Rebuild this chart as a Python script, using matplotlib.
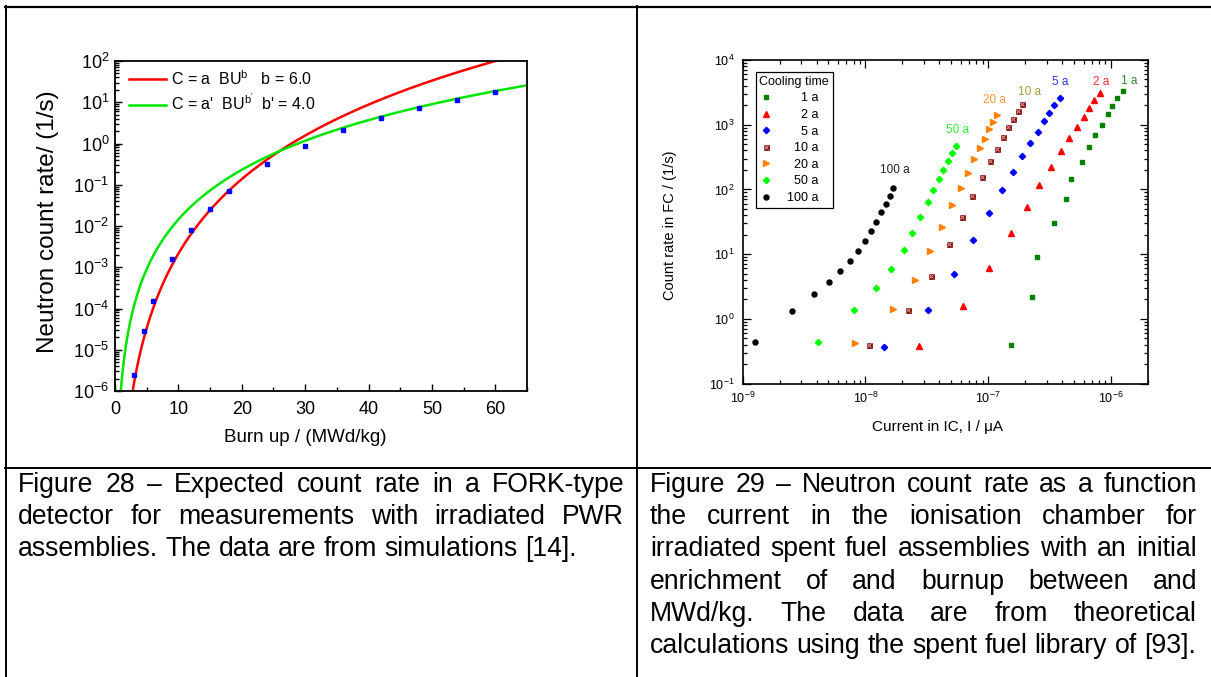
import matplotlib
matplotlib.use("Agg")
import matplotlib.pyplot as plt
import numpy as np
from matplotlib.lines import Line2D
from matplotlib.ticker import LogLocator, NullFormatter, MultipleLocator
from matplotlib.legend_handler import HandlerTuple

plt.rcParams['font.family'] = ['Liberation Sans', 'DejaVu Sans']
plt.rcParams['mathtext.fontset'] = 'custom'
plt.rcParams['mathtext.rm'] = 'Liberation Sans'
plt.rcParams['mathtext.it'] = 'Liberation Sans:italic'
plt.rcParams['mathtext.bf'] = 'Liberation Sans:bold'

W, H = 1211, 677

# ---- Figure 28: count rate vs burn up
burnup = [3, 4.5, 6, 9, 12, 15, 18, 24, 30, 36, 42, 48, 54, 60]
count_rate = [2.5e-6, 2.9e-5, 1.55e-4, 1.6e-3, 8.1e-3, 0.026, 0.072, 0.31,
              0.885, 2.16, 4.23, 7.4, 11.5, 18.1]
fit_a, fit_b = 2.14e-9, 6.0      # red fit
fit_a2, fit_b2 = 1.44e-6, 4.0    # green fit

# ---- Figure 29: FC count rate vs IC current, per cooling time
cooling = ['1 a', '2 a', '5 a', '10 a', '20 a', '50 a', '100 a']
cur_1a = [1.54e-7, 2.29e-7, 2.50e-7, 3.46e-7, 4.26e-7, 4.69e-7, 5.75e-7,
          6.60e-7, 7.38e-7, 8.41e-7, 9.46e-7, 1.02e-6, 1.12e-6, 1.24e-6]
rate_1a = [0.387, 2.14, 8.9, 29.8, 70, 143, 262, 446, 684, 1000, 1460, 1920, 2560, 3280]
cur_2a = [2.72e-8, 6.21e-8, 1.01e-7, 1.52e-7, 2.06e-7, 2.61e-7, 3.25e-7,
          3.95e-7, 4.56e-7, 5.27e-7, 6.00e-7, 6.61e-7, 7.33e-7, 8.07e-7]
rate_2a = [0.378, 1.55, 6.08, 20.9, 54, 117, 224, 387, 622, 920, 1330, 1810, 2410, 3090]
cur_5a = [1.42e-8, 3.21e-8, 5.24e-8, 7.58e-8, 1.02e-7, 1.29e-7, 1.59e-7,
          1.88e-7, 2.18e-7, 2.52e-7, 2.83e-7, 3.14e-7, 3.46e-7, 3.81e-7]
rate_5a = [0.369, 1.36, 4.91, 16.5, 43.6, 96.5, 185, 324, 514, 770, 1130, 1530, 2040, 2620]
cur_10a = [1.07e-8, 2.22e-8, 3.44e-8, 4.75e-8, 6.08e-8, 7.43e-8, 8.83e-8,
           1.03e-7, 1.17e-7, 1.32e-7, 1.46e-7, 1.59e-7, 1.74e-7, 1.88e-7]
rate_10a = [0.387, 1.38, 4.57, 14.4, 37.4, 79.8, 153, 274, 425, 637, 920, 1240, 1650, 2110]
cur_20a = [8.29e-9, 1.67e-8, 2.52e-8, 3.37e-8, 4.23e-8, 5.06e-8, 5.96e-8,
           6.84e-8, 7.64e-8, 8.53e-8, 9.33e-8, 1.01e-7, 1.09e-7, 1.18e-7]
rate_20a = [0.416, 1.41, 3.96, 11.0, 26.5, 56.6, 106, 181, 294, 436, 608, 847, 1110, 1410]
cur_50a = [4.08e-9, 8.13e-9, 1.21e-8, 1.61e-8, 2.05e-8, 2.38e-8, 2.79e-8,
           3.21e-8, 3.56e-8, 3.97e-8, 4.32e-8, 4.69e-8, 5.10e-8, 5.42e-8]
rate_50a = [0.436, 1.39, 2.94, 5.93, 11.5, 21.4, 37.8, 63, 96.5, 143, 201, 271, 360, 462]
cur_100a = [1.27e-9, 2.54e-9, 3.81e-9, 5.03e-9, 6.25e-9, 7.48e-9, 8.71e-9,
            9.93e-9, 1.11e-8, 1.23e-8, 1.35e-8, 1.46e-8, 1.58e-8, 1.69e-8]
rate_100a = [0.431, 1.30, 2.41, 3.73, 5.46, 7.80, 11.3, 16.1, 22.7, 31.3, 44.1, 60.0, 79.8, 106]
# where the series names are written inside the plot
tag_x = [1.41e-6, 8.3e-7, 3.89e-7, 2.15e-7, 1.12e-7, 5.61e-8, 1.75e-8]
tag_y = [4700, 4570, 4570, 3200, 2400, 828, 199]

caption_left = ["Figure 28 \u2013 Expected count rate in a FORK-type",
                "detector for measurements with irradiated PWR",
                "assemblies. The data are from simulations [14]."]
caption_right = ["Figure 29 \u2013 Neutron count rate as a function",
                 "the current in the ionisation chamber for",
                 "irradiated spent fuel assemblies with an initial",
                 "enrichment of and burnup between and",
                 "MWd/kg. The data are from theoretical",
                 "calculations using the spent fuel library of [93]."]


def box(x0, y0, x1, y1):
    # pixel box (top-left origin) -> figure fraction rect
    return [x0 / W, 1 - y1 / H, (x1 - x0) / W, (y1 - y0) / H]


fig = plt.figure(figsize=(W / 100, H / 100), dpi=100)

# ---------------- left chart
ax1 = fig.add_axes(box(115, 61, 527, 391))
bu = np.linspace(0.5, 65, 500)
ax1.plot(bu, fit_a * bu ** fit_b, color='#ff0000', lw=1.8,
         label=r'C = a  BU$^{\mathrm{b}}$   b = 6.0')
ax1.plot(bu, fit_a2 * bu ** fit_b2, color='#00e600', lw=1.8,
         label=r"C = a'  BU$^{\mathrm{b'}}$  b' = 4.0")
ax1.plot(burnup, count_rate, ls='none', marker='s', ms=3.3, color='#0000ff')
ax1.set_yscale('log')
ax1.set_xlim(0, 65)
ax1.set_ylim(1e-6, 1e2)
ax1.xaxis.set_major_locator(MultipleLocator(10))
ax1.xaxis.set_minor_locator(MultipleLocator(5))
ax1.yaxis.set_major_locator(LogLocator(base=10, numticks=20))
ax1.yaxis.set_minor_locator(LogLocator(base=10, subs=np.arange(2, 10), numticks=20))
ax1.yaxis.set_minor_formatter(NullFormatter())
ax1.tick_params(which='both', direction='in', top=False, right=False,
                labelsize=13, width=1.0)
ax1.tick_params(which='major', length=5)
ax1.tick_params(which='minor', length=3)
ax1.tick_params(axis='x', pad=7)
ax1.tick_params(axis='y', pad=4)
for s in ax1.spines.values():
    s.set_linewidth(1.3)
ax1.set_xlabel('Burn up / (MWd/kg)', fontsize=13.5)
ax1.xaxis.set_label_coords(0.461, -0.115)
ax1.set_ylabel('Neutron count rate/ (1/s)', fontsize=17.5)
ax1.yaxis.set_label_coords(-0.137, 0.513)
ax1.legend(loc='upper left', bbox_to_anchor=(0.034, 0.975), frameon=False,
           fontsize=11.5, handlelength=2.3, handletextpad=0.3,
           labelspacing=0.3, borderpad=0, borderaxespad=0)

# ---------------- right chart
ax2 = fig.add_axes(box(742.6, 60, 1148, 383.5))
ax2.set_xscale('log')
ax2.set_yscale('log')
h1, = ax2.plot(cur_1a, rate_1a, ls='none', marker='s', ms=3.2, color='#008000')
h2, = ax2.plot(cur_2a, rate_2a, ls='none', marker='^', ms=4.3, color='#ff0000')
h5, = ax2.plot(cur_5a, rate_5a, ls='none', marker='D', ms=3.2, color='#0000ff')
h10a, = ax2.plot(cur_10a, rate_10a, ls='none', marker='s', ms=3.6,
                 mfc='#800000', mec='#800000', mew=0.5)
h10b, = ax2.plot(cur_10a, rate_10a, ls='none', marker='x', ms=3.0,
                 mec='#e0a0a0', mew=0.7)
h20, = ax2.plot(cur_20a, rate_20a, ls='none', marker='>', ms=4.3, color='#ff8000')
h50, = ax2.plot(cur_50a, rate_50a, ls='none', marker='D', ms=3.2, color='#00ff00')
h100, = ax2.plot(cur_100a, rate_100a, ls='none', marker='o', ms=3.6, color='black')

tag_colors = ['#2a8a2a', '#ff3030', '#3030ff', '#a0a040', '#ff9933', '#33ee33', '#222222']
for t, x, y, c in zip(cooling, tag_x, tag_y, tag_colors):
    ax2.text(x, y, t, color=c, fontsize=8.5, ha='center', va='center')

ax2.set_xlim(1e-9, 2e-6)
ax2.set_ylim(1e-1, 1e4)
for axis in (ax2.xaxis, ax2.yaxis):
    axis.set_major_locator(LogLocator(base=10, numticks=20))
    axis.set_minor_locator(LogLocator(base=10, subs=np.arange(2, 10), numticks=20))
    axis.set_minor_formatter(NullFormatter())
ax2.tick_params(which='both', direction='in', top=True, right=True,
                labelsize=9, width=0.9)
ax2.tick_params(which='major', length=6)
ax2.tick_params(which='minor', length=3)
ax2.tick_params(axis='x', pad=5)
ax2.tick_params(axis='y', pad=6)
for s in ax2.spines.values():
    s.set_linewidth(1.2)
ax2.set_xlabel('Current in IC, I / \u03bcA', fontsize=11)
ax2.xaxis.set_label_coords(0.481, -0.113)
ax2.set_ylabel('Count rate in FC / (1/s)', fontsize=10.5)
ax2.yaxis.set_label_coords(-0.163, 0.49)

labels = ['    1 a', '    2 a', '    5 a', '  10 a', '  20 a', '  50 a', '100 a']
leg = ax2.legend([h1, h2, h5, (h10a, h10b), h20, h50, h100], labels,
                 handler_map={tuple: HandlerTuple(ndivide=1)},
                 title='Cooling time', title_fontsize=9, fontsize=9,
                 loc='upper left', bbox_to_anchor=(0.032, 0.963),
                 borderaxespad=0, borderpad=0.3, handlelength=1.0,
                 handletextpad=1.2, labelspacing=0.37, fancybox=False,
                 edgecolor='black', framealpha=1, alignment='left')
leg.get_frame().set_linewidth(0.9)

# ---------------- table rules
def hline(y, x0, x1, lw):
    fig.add_artist(Line2D([x0 / W, x1 / W], [1 - y / H, 1 - y / H],
                          transform=fig.transFigure, color='black', lw=lw))


def vline(x, y0, y1, lw):
    fig.add_artist(Line2D([x / W, x / W], [1 - y0 / H, 1 - y1 / H],
                          transform=fig.transFigure, color='black', lw=lw))


hline(6.5, 5, W, 1.6)
hline(468.3, 5, W, 1.4)
vline(6, 5.5, H, 1.4)
vline(636.8, 5.5, H, 1.4)

# ---------------- justified captions
renderer = fig.canvas.get_renderer()


def caption(lines, x0, x1, y0, step, size):
    sp = fig.text(0, 0, 'a a', fontsize=size)
    aa = fig.text(0, 0, 'aa', fontsize=size)
    space = sp.get_window_extent(renderer).width - aa.get_window_extent(renderer).width
    sp.remove()
    aa.remove()
    for i, line in enumerate(lines):
        y = 1 - (y0 + i * step) / H
        words = line.split()
        texts = [fig.text(0, y, w, fontsize=size, va='baseline') for w in words]
        widths = [t.get_window_extent(renderer).width for t in texts]
        if i == len(lines) - 1 or len(words) < 2:
            gap = space
        else:
            gap = (x1 - x0 - sum(widths)) / (len(words) - 1)
        x = x0
        for t, w in zip(texts, widths):
            t.set_x(x / W)
            x += w + gap


caption(caption_left, 18, 624, 492, 32.2, 19.2)
caption(caption_right, 650, 1197, 492, 32.2, 19.2)

fig.savefig('out.png', dpi=100)
